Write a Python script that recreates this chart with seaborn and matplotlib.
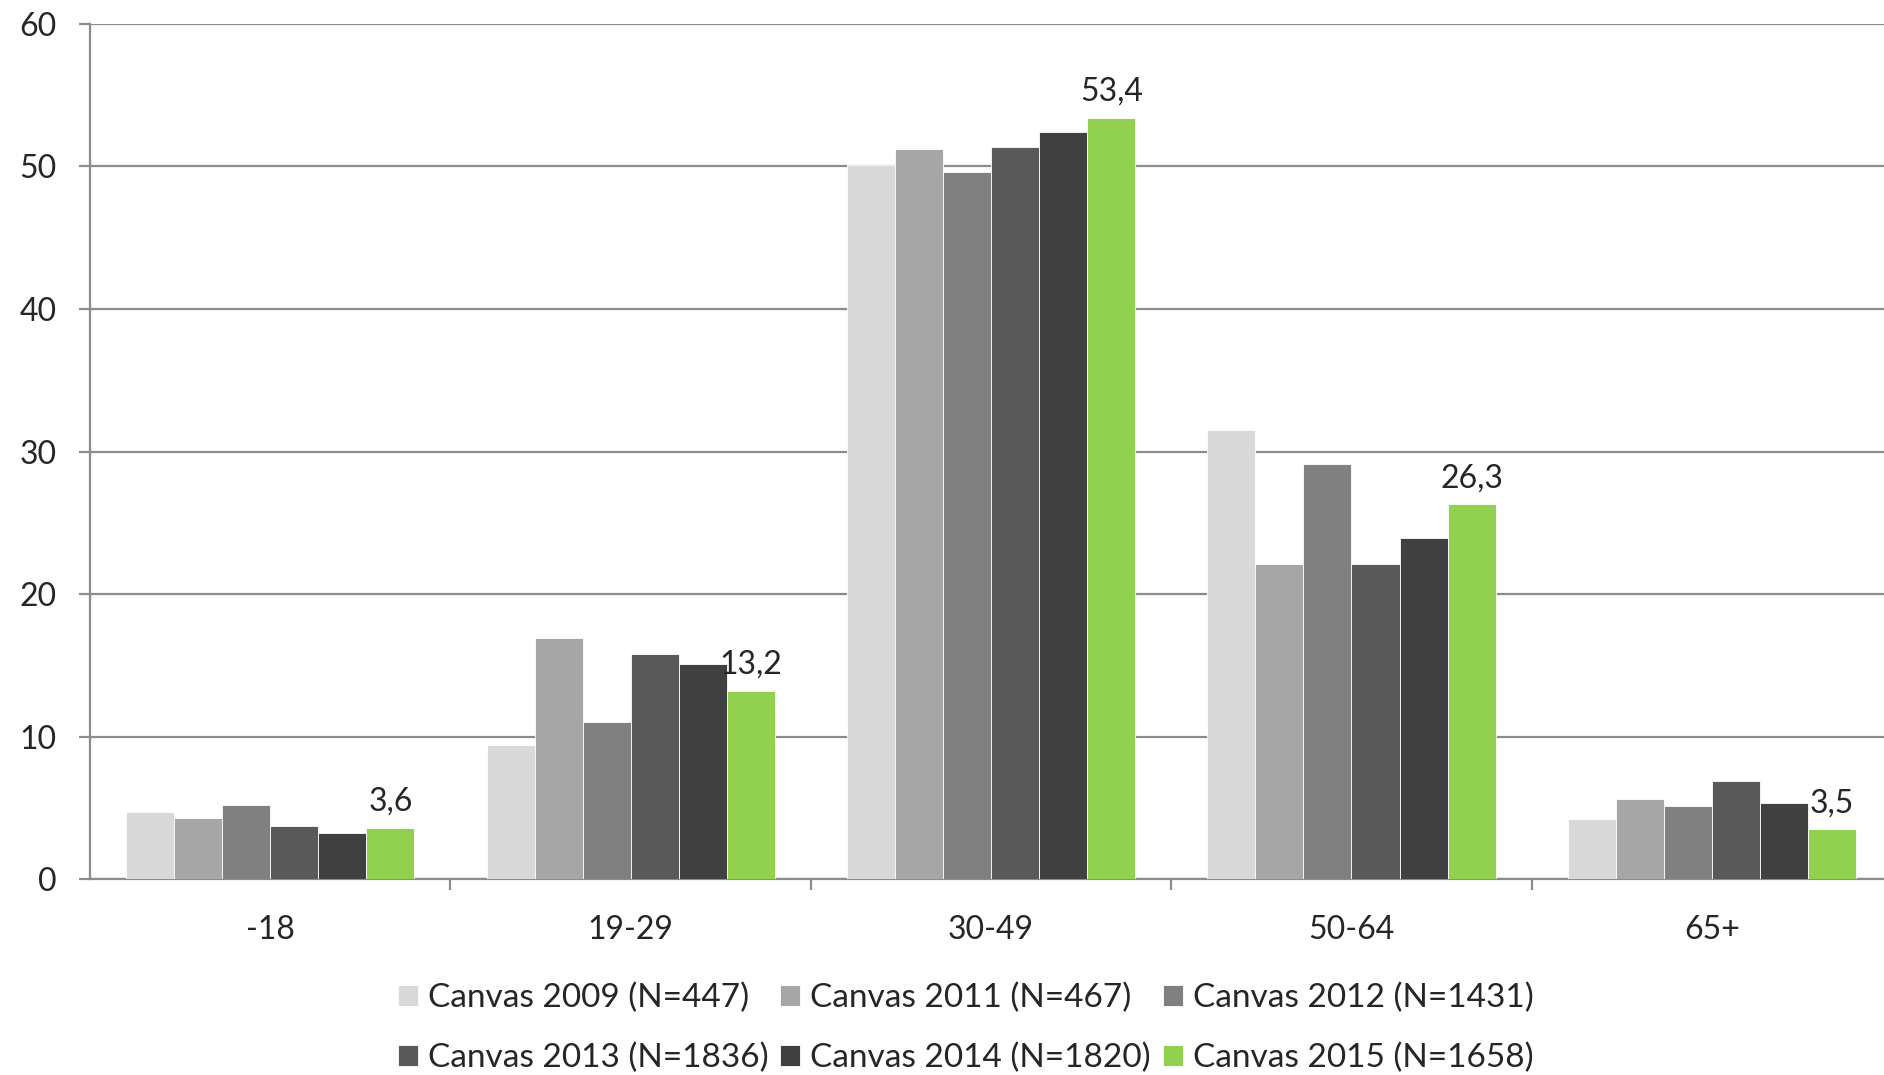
import matplotlib
matplotlib.use("Agg")
import matplotlib.pyplot as plt
import numpy as np
import pandas as pd
import seaborn as sns
from matplotlib.ticker import FixedLocator

# Age groups and share per survey year
age_groups = ["-18", "19-29", "30-49", "50-64", "65+"]
series_names = [
    "Canvas 2009 (N=447)",
    "Canvas 2011 (N=467)",
    "Canvas 2012 (N=1431)",
    "Canvas 2013 (N=1836)",
    "Canvas 2014 (N=1820)",
    "Canvas 2015 (N=1658)",
]
canvas_2009 = [4.7, 9.4, 50.1, 31.5, 4.2]
canvas_2011 = [4.3, 16.9, 51.2, 22.1, 5.6]
canvas_2012 = [5.2, 11.0, 49.6, 29.1, 5.1]
canvas_2013 = [3.7, 15.8, 51.4, 22.1, 6.9]
canvas_2014 = [3.2, 15.1, 52.4, 23.9, 5.3]
canvas_2015 = [3.6, 13.2, 53.4, 26.3, 3.5]

colors = ["#D9D9D9", "#A6A6A6", "#808080", "#595959", "#404040", "#92D050"]

all_series = [canvas_2009, canvas_2011, canvas_2012, canvas_2013, canvas_2014, canvas_2015]
rows = []
for name, vals in zip(series_names, all_series):
    for grp, v in zip(age_groups, vals):
        rows.append({"age": grp, "series": name, "value": v})
df = pd.DataFrame(rows)

sns.set_style("white")
plt.rcParams["font.family"] = ["Lato", "DejaVu Sans"]

fig = plt.figure(figsize=(18.84, 10.75), dpi=100)
ax = fig.add_axes([0.0478, 0.1823, 0.9565, 0.7954])

sns.barplot(
    data=df, x="age", y="value", hue="series", order=age_groups,
    hue_order=series_names, palette=colors, width=0.8, ax=ax,
    linewidth=0.6, edgecolor="white", saturation=1, legend=True, zorder=3,
)

ax.set_ylim(0, 60)
ax.set_xlim(-0.5, len(age_groups) - 0.5)
ax.set_yticks(range(0, 61, 10))
ax.yaxis.grid(True, color="#8C8C8C", linewidth=1.6, zorder=0)
ax.set_axisbelow(True)
ax.set_xlabel("")
ax.set_ylabel("")

for side in ["top", "right"]:
    ax.spines[side].set_visible(False)
for side in ["left", "bottom"]:
    ax.spines[side].set_color("#8C8C8C")
    ax.spines[side].set_linewidth(1.6)

ax.tick_params(axis="y", which="major", length=8, width=1.6, color="#8C8C8C",
               labelsize=23, pad=16, left=True)
ax.tick_params(axis="x", which="major", length=0, labelsize=23, pad=26)
ax.xaxis.set_minor_locator(FixedLocator(np.arange(0.5, len(age_groups) - 0.5, 1)))
ax.tick_params(axis="x", which="minor", length=8, width=1.6, color="#8C8C8C",
               direction="out", bottom=True)

# label only the most recent year
green = ax.containers[-1]
ax.bar_label(green, labels=[f"{v:.1f}".replace(".", ",") for v in canvas_2015],
             padding=8, fontsize=23)

handles, labels = ax.get_legend_handles_labels()
order = [0, 3, 1, 4, 2, 5]
ax.legend([handles[i] for i in order], [labels[i] for i in order],
          ncol=3, loc="upper center", bbox_to_anchor=(0.486, -0.086),
          frameon=False, fontsize=24, handlelength=0.6, handleheight=0.6,
          handletextpad=0.3, columnspacing=0.35, labelspacing=0.9)

fig.savefig("out.png", dpi=100)
